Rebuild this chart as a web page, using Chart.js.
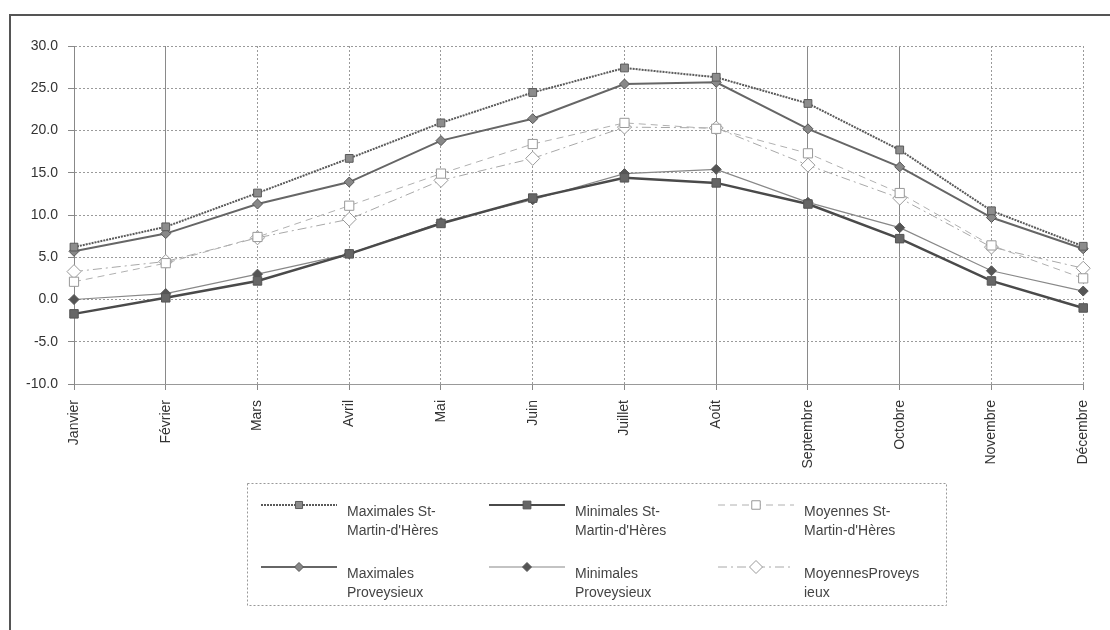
<!DOCTYPE html>
<html>
<head>
<meta charset="utf-8">
<script src="https://cdn.jsdelivr.net/npm/chart.js@4"></script>
<style>
  html, body { margin: 0; padding: 0; background: #fff; }
  #wrap { position: relative; width: 1110px; height: 630px; }
</style>
</head>
<body>
<div id="wrap"><canvas id="c" width="1110" height="630"></canvas></div>
<script>
const months = ['Janvier','Février','Mars','Avril','Mai','Juin','Juillet','Août','Septembre','Octobre','Novembre','Décembre'];
const yTicks = [-10, -5, 0, 5, 10, 15, 20, 25, 30];

const maxStMartin = [6.2, 8.6, 12.6, 16.7, 20.9, 24.5, 27.4, 26.3, 23.2, 17.7, 10.5, 6.3];
const minStMartin = [-1.7, 0.2, 2.2, 5.4, 9.0, 12.0, 14.4, 13.8, 11.3, 7.2, 2.2, -1.0];
const moyStMartin = [2.1, 4.3, 7.4, 11.1, 14.9, 18.4, 20.9, 20.2, 17.3, 12.6, 6.4, 2.5];
const maxProveysieux = [5.7, 7.8, 11.3, 13.9, 18.8, 21.4, 25.5, 25.7, 20.2, 15.7, 9.7, 6.0];
const minProveysieux = [0.0, 0.7, 3.0, 5.4, 9.1, 11.8, 14.9, 15.4, 11.5, 8.5, 3.4, 1.0];
const moyProveysieux = [3.3, 4.5, 7.3, 9.5, 14.1, 16.7, 20.4, 20.3, 15.9, 12.0, 6.2, 3.7];

const legendLines = [
  ['Maximales St-', "Martin-d'Hères"],
  ['Minimales St-', "Martin-d'Hères"],
  ['Moyennes St-', "Martin-d'Hères"],
  ['Maximales', 'Proveysieux'],
  ['Minimales', 'Proveysieux'],
  ['MoyennesProveys', 'ieux']
];

const FONT = '"Liberation Sans", Arial, Helvetica, sans-serif';
const solidX = [0, 1, 7, 8, 9];

const datasets = [
  { label: "Maximales St-Martin-d'Hères", data: maxStMartin, borderColor: '#5a5a5a', borderWidth: 2, borderDash: [2, 1],
    pointStyle: 'rect', pointRadius: 5.5, pointBackgroundColor: '#8c8c8c', pointBorderColor: '#5a5a5a', pointBorderWidth: 1 },
  { label: "Minimales St-Martin-d'Hères", data: minStMartin, borderColor: '#4a4a4a', borderWidth: 2.5, borderDash: [],
    pointStyle: 'rect', pointRadius: 6, pointBackgroundColor: '#666', pointBorderColor: '#555', pointBorderWidth: 1 },
  { label: "Moyennes St-Martin-d'Hères", data: moyStMartin, borderColor: '#b0b0b0', borderWidth: 1, borderDash: [7, 5],
    pointStyle: 'rect', pointRadius: 6.5, pointBackgroundColor: '#fff', pointBorderColor: '#999', pointBorderWidth: 1 },
  { label: 'Maximales Proveysieux', data: maxProveysieux, borderColor: '#666', borderWidth: 2, borderDash: [],
    pointStyle: 'rectRot', pointRadius: 5, pointBackgroundColor: '#888', pointBorderColor: '#555', pointBorderWidth: 1 },
  { label: 'Minimales Proveysieux', data: minProveysieux, borderColor: '#888', borderWidth: 1.2, borderDash: [],
    pointStyle: 'rectRot', pointRadius: 5, pointBackgroundColor: '#555', pointBorderColor: '#555', pointBorderWidth: 1 },
  { label: 'Moyennes Proveysieux', data: moyProveysieux, borderColor: '#a8a8a8', borderWidth: 1, borderDash: [9, 4, 2, 4],
    pointStyle: 'rectRot', pointRadius: 7, pointBackgroundColor: '#fff', pointBorderColor: '#999', pointBorderWidth: 1 }
];
datasets.forEach(d => { d.fill = false; d.tension = 0; d.pointHoverRadius = d.pointRadius; });

const framePlugin = {
  id: 'frame',
  beforeDraw(chart) {
    const ctx = chart.ctx;
    ctx.save();
    ctx.strokeStyle = '#555';
    ctx.lineWidth = 2;
    ctx.setLineDash([]);
    ctx.beginPath();
    ctx.moveTo(1110, 15);
    ctx.lineTo(10, 15);
    ctx.lineTo(10, 630);
    ctx.stroke();
    ctx.restore();
  }
};

const legendPlugin = {
  id: 'boxLegend',
  afterDraw(chart) {
    const ctx = chart.ctx;
    const box = { x: 247, y: 483, w: 699, h: 122 };
    ctx.save();
    ctx.strokeStyle = '#999';
    ctx.lineWidth = 1;
    ctx.setLineDash([2, 2]);
    ctx.strokeRect(box.x + 0.5, box.y + 0.5, box.w, box.h);
    const colX = [261, 489, 718];
    const rowY = [505, 567];
    chart.data.datasets.forEach((ds, i) => {
      const col = i % 3, row = Math.floor(i / 3);
      const x0 = colX[col], y0 = rowY[row];
      ctx.save();
      ctx.strokeStyle = ds.borderColor;
      ctx.lineWidth = Math.min(ds.borderWidth, 2);
      ctx.setLineDash(ds.borderDash || []);
      ctx.beginPath();
      ctx.moveTo(x0, y0);
      ctx.lineTo(x0 + 76, y0);
      ctx.stroke();
      ctx.setLineDash([]);
      ctx.fillStyle = ds.pointBackgroundColor;
      ctx.strokeStyle = ds.pointBorderColor;
      ctx.lineWidth = ds.pointBorderWidth;
      Chart.helpers.drawPoint(ctx, { pointStyle: ds.pointStyle, radius: ds.pointRadius - 0.5, rotation: 0, borderWidth: ds.pointBorderWidth }, x0 + 38, y0);
      ctx.restore();
      ctx.fillStyle = '#444';
      ctx.font = '14px ' + FONT;
      ctx.textBaseline = 'middle';
      ctx.textAlign = 'left';
      legendLines[i].forEach((t, k) => ctx.fillText(t, x0 + 86, y0 + 7 + k * 19));
    });
    ctx.restore();
  }
};

new Chart(document.getElementById('c'), {
  type: 'line',
  data: { labels: months, datasets },
  options: {
    responsive: false,
    animation: false,
    devicePixelRatio: 1,
    layout: { padding: { top: 46, right: 17, bottom: 0, left: 0 } },
    plugins: { legend: { display: false }, tooltip: { enabled: false } },
    scales: {
      x: {
        offset: false,
        afterFit(scale) { scale.height = 246; },
        grid: {
          offset: false,
          color: ctx => (solidX.includes(ctx.index) ? '#8a8a8a' : '#9a9a9a'),
          lineWidth: 1,
          drawTicks: true,
          tickLength: 6,
          tickColor: '#888'
        },
        border: {
          display: true, color: '#999', width: 1,
          dash: ctx => (ctx.index === undefined || solidX.includes(ctx.index)) ? [] : [2, 2]
        },
        ticks: {
          maxRotation: 90, minRotation: 90, autoSkip: false, padding: 10,
          color: '#333', font: { family: FONT, size: 14 }
        }
      },
      y: {
        min: -10, max: 30,
        afterFit(scale) { scale.width = 74; },
        afterBuildTicks(scale) { scale.ticks = yTicks.map(v => ({ value: v })); },
        grid: {
          color: '#9a9a9a', lineWidth: 1, drawTicks: true, tickLength: 6, tickColor: '#888'
        },
        border: {
          display: true, color: '#888', width: 1,
          dash: ctx => (ctx.index === undefined) ? [] : [2, 2]
        },
        ticks: {
          padding: 10, color: '#333', font: { family: FONT, size: 14 },
          callback: v => Number(v).toFixed(1)
        }
      }
    }
  },
  plugins: [framePlugin, legendPlugin]
});
</script>
</body>
</html>
